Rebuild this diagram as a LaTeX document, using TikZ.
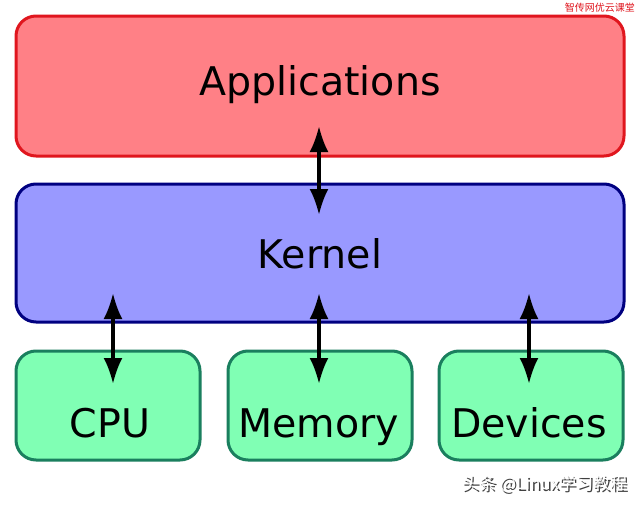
\documentclass[tikz,border=0pt]{standalone}
\usepackage{fontspec}
\setmainfont{DejaVu Sans}
\newfontfamily\cjk{Noto Sans CJK SC}
\usetikzlibrary{arrows.meta}
\begin{document}
\begin{tikzpicture}[x=1pt,y=-1pt,
  layer/.style={rounded corners=20pt,line width=3pt},
  lbl/.style={font=\fontsize{39.5}{44}\selectfont,inner sep=0pt,anchor=base},
  biarrow/.style={line width=3.5pt,{Latex[length=26pt,width=19pt]}-{Latex[length=26pt,width=19pt]}}]
\useasboundingbox (0,0) rectangle (640,506);
\fill[white] (0,0) rectangle (640,506);
\definecolor{appfill}{RGB}{255,128,134}
\definecolor{appline}{RGB}{224,22,30}
\definecolor{kerfill}{RGB}{153,153,255}
\definecolor{kerline}{RGB}{0,0,128}
\definecolor{hwfill}{RGB}{128,255,180}
\definecolor{hwline}{RGB}{26,127,94}
\draw[layer,fill=appfill,draw=appline] (16,16) rectangle (624,156);
\draw[layer,fill=kerfill,draw=kerline] (16,184) rectangle (624,322);
\draw[layer,fill=hwfill,draw=hwline] (16,351) rectangle (200,460);
\draw[layer,fill=hwfill,draw=hwline] (228,351) rectangle (412,460);
\draw[layer,fill=hwfill,draw=hwline] (439,351) rectangle (623,460);
\node[lbl] (app) at (320,95) {Applications};
\node[lbl] (ker) at (320,268) {Kernel};
\node[lbl] (cpu) at (110,437) {CPU};
\node[lbl] (mem) at (318.5,437) {Memory};
\node[lbl] (dev) at (529,437) {Devices};
\coordinate (a1) at (319,126);
\coordinate (k1) at (319,215);
\coordinate (k2) at (113,293);
\coordinate (k3) at (319,293);
\coordinate (k4) at (529,293);
\coordinate (c1) at (113,384);
\coordinate (m1) at (319,384);
\coordinate (d1) at (529,384);
\draw[biarrow] (a1) -- (k1);
\draw[biarrow] (k2) -- (c1);
\draw[biarrow] (k3) -- (m1);
\draw[biarrow] (k4) -- (d1);
\node[font=\cjk\fontsize{10}{12}\selectfont,text=appline,anchor=north east,inner sep=0pt] (wm1) at (635,3) {智传网优云课堂};
\node[font=\cjk\fontsize{17}{20}\selectfont,text=black!75,anchor=west,inner sep=0pt] (wm2s) at (463.5,485.5) {头条 @Linux学习教程};
\node[font=\cjk\fontsize{17}{20}\selectfont,text=white,anchor=west,inner sep=0pt] (wm2) at (462,484) {头条 @Linux学习教程};
\end{tikzpicture}
\end{document}
